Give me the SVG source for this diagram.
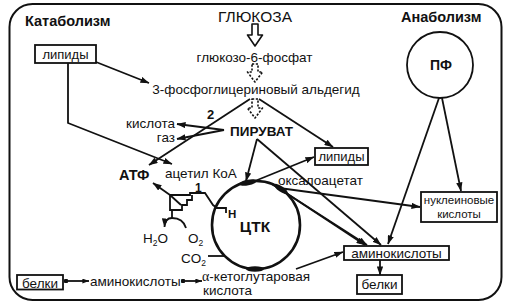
<svg xmlns="http://www.w3.org/2000/svg" width="508" height="308" viewBox="0 0 508 308">
<defs>
<style>
text{font-family:"Liberation Sans",Arial,sans-serif;font-size:13.5px;fill:#111}
.b{font-weight:bold}
.box{fill:#fff;stroke:#111;stroke-width:1.8}
.ln{fill:none;stroke:#111;stroke-width:1.8}
.ar{marker-end:url(#ah)}
.hol{fill:#fff;stroke:#111;stroke-width:1.6;stroke-linejoin:round}
.dash{stroke-dasharray:2.2 1.6}
</style>
<marker id="ah" viewBox="0 0 10 7" refX="9.5" refY="3.5" markerWidth="9" markerHeight="6.5" markerUnits="userSpaceOnUse" orient="auto"><path d="M0,0 L10,3.5 L0,7 Z" fill="#111"/></marker>
<marker id="ahs" viewBox="0 0 10 7" refX="9.5" refY="3.5" markerWidth="7" markerHeight="5" markerUnits="userSpaceOnUse" orient="auto"><path d="M0,0 L10,3.5 L0,7 Z" fill="#111"/></marker>
<marker id="dot" viewBox="0 0 6 6" refX="3" refY="3" markerWidth="4.5" markerHeight="4.5" markerUnits="userSpaceOnUse"><circle cx="3" cy="3" r="3" fill="#111"/></marker>
</defs>
<rect x="0" y="0" width="508" height="308" fill="#fff"/>
<rect id="frame" x="9.5" y="4" width="492" height="296" rx="23" fill="none" stroke="#111" stroke-width="2"/>

<g id="connectors">
<path class="hol" d="M252,24 L258,24 L258,35 L262.5,35 L255,46 L247.5,35 L252,35 Z"/>
<path class="hol dash" d="M252,64 L258,64 L258,72 L262.5,72 L255,82 L247.5,72 L252,72 Z"/>
<path class="hol dash" d="M252,99 L258,99 L258,108 L262.5,108 L255,118 L247.5,108 L252,108 Z"/>
<path class="ln ar" d="M96,62 L149,83"/>
<path class="ln ar" d="M68,63 L68,123 L172,164"/>
<path class="ln ar" d="M250,99 L149,165"/>
<path class="ln ar" d="M259,99 L333,147"/>
<path class="ln ar" d="M224,130 L177,124"/>
<path class="ln ar" d="M224,130 L177,139"/>
<path class="ln ar" d="M257,139 L246,181"/>
<path class="ln ar" d="M257,139 L381,245"/>
<path class="ln ar" d="M250,183 L314,157"/>
<path class="ln ar" d="M279,188 L420,207"/>
<path class="ln ar" d="M272,184 L367,245"/>
<path class="ln ar" d="M283,191 L365,245"/>
<path class="ln ar" d="M439,98 L388,244"/>
<path class="ln ar" d="M442,98 L461,191"/>
<path class="ln ar" d="M296,269 L343,252"/>
<path class="ln ar" d="M380,260 L380,275"/>
<path class="ln" style="marker-start:url(#dot);marker-end:url(#ahs)" d="M66,281 L89,281"/>
<path class="ln" style="marker-start:url(#dot);marker-end:url(#ahs)" d="M183,281 L202,281"/>
<path class="ln ar" d="M170,195 L153,183"/>
<path class="ln" d="M170,195 L190,195 L190,193 L205,193 L213,205 L217,208"/>
<path class="ln" d="M170,195 L170,210 L182,210 L182,205 L187,205 L187,200 L192,200 L192,195"/>
<path class="ln" d="M170,195 L181,205"/>
<path class="ln" d="M172,210 L172,218"/>
<path class="ln ar" d="M172,218 Q165,218 164.5,227"/>
<path class="ln" d="M172,218 Q183,218 186,228"/>
<path class="ln" d="M216,208 L226,208 L226,213"/>
<path class="ln" d="M208,256 L225,256"/>
</g>

<g id="n-glukoza"><text x="255" y="22" text-anchor="middle" style="font-size:15.5px">ГЛЮКОЗА</text></g>
<g id="n-g6f"><text x="254.5" y="62" text-anchor="middle">глюкозо-6-фосфат</text></g>
<g id="n-3fga"><text x="256" y="94" text-anchor="middle">3-фосфоглицериновый альдегид</text></g>
<g id="n-piruvat"><text class="b" x="230" y="136">ПИРУВАТ</text></g>
<g id="n-kislota"><text x="175" y="128" text-anchor="end">кислота</text></g>
<g id="n-gaz"><text x="175" y="142" text-anchor="end">газ</text></g>
<g id="n-atf"><text class="b" x="119" y="180" style="font-size:14.5px">АТФ</text></g>
<g id="n-acetil"><text x="165" y="177.5">ацетил КоА</text></g>
<g id="l-2"><text class="b" x="207" y="119" style="font-size:13px">2</text></g>
<g id="l-1"><text class="b" x="195" y="192" style="font-size:12px">1</text></g>
<g id="l-h"><text class="b" x="228" y="218" style="font-size:11.5px">H</text></g>
<g id="n-lipidy1"><rect class="box" x="35" y="45" width="61" height="18"/><text x="65.5" y="59" text-anchor="middle" style="font-size:13px">липиды</text></g>
<g id="n-lipidy2"><rect class="box" x="315" y="148" width="53" height="17"/><text x="341.5" y="161" text-anchor="middle" style="font-size:13px">липиды</text></g>
<g id="n-ctk">
<circle cx="256" cy="225" r="44" fill="none" stroke="#111" stroke-width="2.6"/>
<ellipse cx="248" cy="182.5" rx="9" ry="2.8" transform="rotate(-11 248 182.5)" fill="#111"/>
<ellipse cx="281" cy="189" rx="8" ry="2.8" transform="rotate(35 281 189)" fill="#111"/>
<ellipse cx="255" cy="269" rx="9" ry="2.8" fill="#111"/>
<text class="b" x="255" y="232" text-anchor="middle" style="font-size:15.5px">ЦТК</text>
</g>
<g id="n-oksaloacetat"><text x="278" y="185">оксалоацетат</text></g>
<g id="n-h2o"><text x="143" y="243">H<tspan dy="3" style="font-size:8.5px">2</tspan><tspan dy="-3">O</tspan></text></g>
<g id="n-o2"><text x="188" y="243">O<tspan dy="3" style="font-size:8.5px">2</tspan></text></g>
<g id="n-co2"><text x="181" y="263">CO<tspan dy="3" style="font-size:8.5px">2</tspan></text></g>
<g id="n-belki1"><rect class="box" x="17" y="275" width="46" height="14.5"/><text x="40" y="287.5" text-anchor="middle">белки</text></g>
<g id="n-amino1"><text x="90" y="286">аминокислоты</text></g>
<g id="n-aketo"><text x="202" y="281"><tspan style="font-family:'Liberation Serif',serif;font-size:14px">α</tspan>-кетоглутаровая</text><text x="203" y="295">кислота</text></g>
<g id="n-pf"><circle cx="440" cy="65" r="33" fill="#fff" stroke="#111" stroke-width="1.8"/><text class="b" x="441" y="70" text-anchor="middle" style="font-size:14px">ПФ</text></g>
<g id="n-nukl"><rect class="box" x="421" y="192" width="76" height="30"/><text x="459" y="204" text-anchor="middle" style="font-size:11.5px">нуклеиновые</text><text x="459" y="218" text-anchor="middle" style="font-size:11.5px">кислоты</text></g>
<g id="n-amino2"><rect class="box" x="344" y="246" width="105" height="14"/><text x="396.5" y="257.5" text-anchor="middle">аминокислоты</text></g>
<g id="n-belki2"><rect class="box" x="357" y="275" width="45" height="19"/><text x="379.5" y="289" text-anchor="middle">белки</text></g>
<g id="t-katab"><text class="b" x="25" y="26" style="font-size:14.5px">Катаболизм</text></g>
<g id="t-anab"><text class="b" x="401" y="22" style="font-size:14.5px">Анаболизм</text></g>
</svg>
